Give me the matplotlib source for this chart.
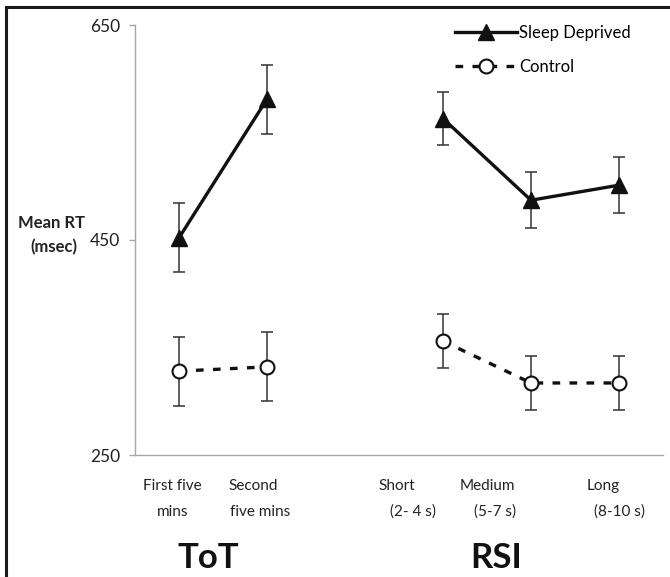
import matplotlib
matplotlib.use("Agg")
import matplotlib.pyplot as plt
from matplotlib.lines import Line2D
from matplotlib.patches import Rectangle
from matplotlib.transforms import blended_transform_factory

plt.rcParams['font.family'] = ['Lato', 'DejaVu Sans']

# ---- data ----
group_names = ["ToT", "RSI"]
cat_line1 = ["First five", "Second", "Short", "Medium", "Long"]
cat_line2 = ["mins", "five mins", "(2- 4 s)", "(5-7 s)", "(8-10 s)"]
cat_group = [0, 0, 1, 1, 1]
sleep_rt = [452, 581, 563, 487, 501]
sleep_err = [32, 32, 25, 26, 26]
control_rt = [328, 332, 356, 317, 317]
control_err = [32, 32, 25, 25, 25]
yticks = [250, 450, 650]

# ---- layout ----
W, H = 670, 577
fig = plt.figure(figsize=(W / 100, H / 100), dpi=100)
ax = fig.add_axes([135 / W, 1 - 455 / H, (663 - 135) / W, (455 - 25) / H])

# x positions: groups separated by one empty slot
xpos = []
p = 1
for i, g in enumerate(cat_group):
    if i > 0 and g != cat_group[i - 1]:
        p += 1
    xpos.append(p)
    p += 1

err_kw = dict(ecolor='#333333', elinewidth=1.1, capsize=4.5, capthick=1.1, zorder=2)

for g in set(cat_group):
    idx = [i for i, c in enumerate(cat_group) if c == g]
    xs = [xpos[i] for i in idx]
    ax.errorbar(xs, [sleep_rt[i] for i in idx], yerr=[sleep_err[i] for i in idx],
                fmt='none', **err_kw)
    ax.errorbar(xs, [control_rt[i] for i in idx], yerr=[control_err[i] for i in idx],
                fmt='none', **err_kw)
    ax.plot(xs, [sleep_rt[i] for i in idx], color='#111111', lw=2.4,
            marker='^', markersize=12, markerfacecolor='#111111',
            markeredgecolor='#111111', zorder=3)
    ax.plot(xs, [control_rt[i] for i in idx], color='#111111', lw=2.4,
            linestyle=(0, (2.3, 2.8)), dash_capstyle='butt',
            marker='o', markersize=10, markerfacecolor='white',
            markeredgecolor='#111111', markeredgewidth=1.5, zorder=3)

ax.set_xlim(0.5, xpos[-1] + 0.5)
ax.set_ylim(yticks[0], yticks[-1])
ax.set_yticks(yticks)
ax.set_xticks([])
for s in ['top', 'right']:
    ax.spines[s].set_visible(False)
for s in ['left', 'bottom']:
    ax.spines[s].set_color('#a6a6a6')
    ax.spines[s].set_linewidth(1.0)
ax.tick_params(axis='y', direction='out', length=4, width=1, color='#a6a6a6',
               pad=6.5, labelsize=12.5, labelcolor='#222222')

# category labels (two lines, Excel-like placement)
trans = blended_transform_factory(ax.transData, fig.transFigure)
off1 = [-0.08, -0.16, -0.52, -0.50, -0.18]
off2 = [-0.07, -0.08, -0.34, -0.41, 0.01]
for i in range(len(cat_line1)):
    ax.text(xpos[i] + off1[i], 1 - 486 / H, cat_line1[i], transform=trans,
            ha='center', va='center', fontsize=11, color='#222222')
    ax.text(xpos[i] + off2[i], 1 - 512 / H, cat_line2[i], transform=trans,
            ha='center', va='center', fontsize=11, color='#222222')

# group labels
gx = [1.33, 4.61]
for g, name in enumerate(group_names):
    ax.text(gx[g], 1 - 568 / H, name, transform=trans, ha='center',
            va='baseline', fontsize=25, fontweight='bold', color='#111111')

# y label
fig.text(52 / W, 1 - 223 / H, "Mean RT", ha='center', va='center',
         fontsize=12, fontweight='bold', color='#222222')
fig.text(54 / W, 1 - 247 / H, "(msec)", ha='center', va='center',
         fontsize=12, fontweight='bold', color='#222222')

# legend
handles = [
    Line2D([], [], color='#111111', lw=2.4, marker='^', markersize=12,
           markerfacecolor='#111111'),
    Line2D([], [], color='#111111', lw=2.4, linestyle=(0, (2.3, 2.8)),
           marker='o', markersize=10, markerfacecolor='white',
           markeredgecolor='#111111', markeredgewidth=1.5),
]
fig.legend(handles, ["Sleep Deprived", "Control"], loc='upper left',
           bbox_to_anchor=(455 / W, 1 - 25 / H), frameon=False,
           fontsize=12, handlelength=3.7, handletextpad=0.15,
           labelspacing=1.1, borderpad=0, borderaxespad=0)

# outer frame (left and top visible)
fig.patches.append(Rectangle((5.5 / W, -0.05), 1.1, 1.05 - 7.5 / H,
                             transform=fig.transFigure, fill=False,
                             edgecolor='#1a1a1a', linewidth=2.2, clip_on=False))

fig.savefig("out.png", dpi=100)
